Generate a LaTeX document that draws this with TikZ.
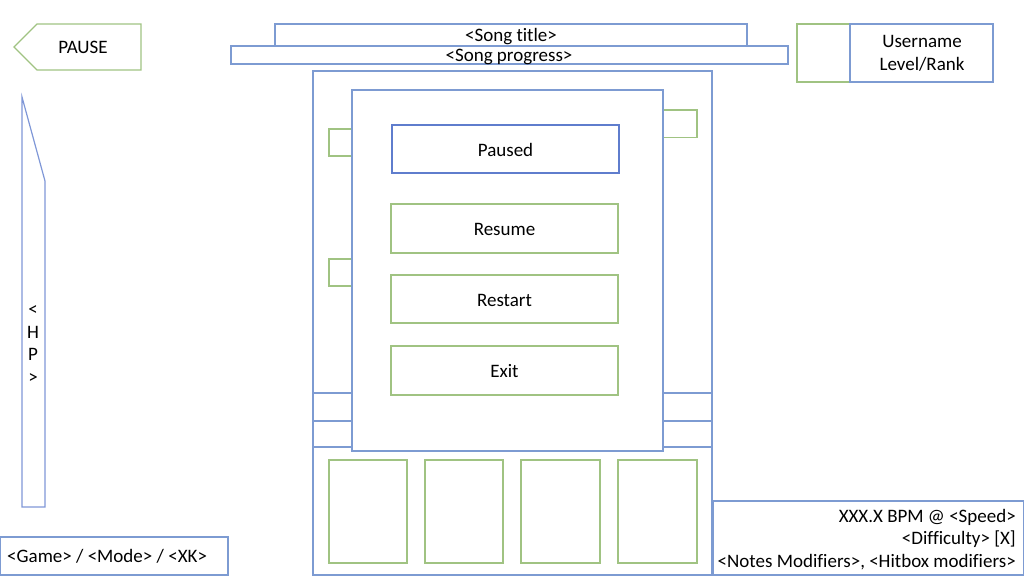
\documentclass[tikz,border=0pt]{standalone}
\usepackage{fontspec}
\setmainfont[Ligatures=NoCommon]{Carlito}
\definecolor{ublue}{RGB}{125,155,210}
\definecolor{dblue}{RGB}{95,125,205}
\definecolor{ugreen}{RGB}{160,195,130}
\begin{document}
\begin{tikzpicture}[x=1pt,y=-1pt,
  bl/.style={draw=ublue,line width=1.2pt},
  gr/.style={draw=ugreen,line width=1.4pt},
  txt/.style={font=\fontsize{19}{22.5}\selectfont,inner sep=0pt,align=center}]
\useasboundingbox (0,0) rectangle (1024,576);
% PAUSE
\draw[gr] (14,47) -- (37,24) -- (141,24) -- (141,70) -- (37,70) -- cycle;
\node[txt] (pause) at (83,47.5) {PAUSE};
% song title / progress
\draw[bl] (275,24) rectangle (747,46);
\node[txt] (title) at (511,36.5) {<Song title>};
\draw[bl,fill=white] (231,46) rectangle (788,64);
\node[txt] (prog) at (509,56.5) {<Song progress>};
% user
\draw[gr] (797,24) rectangle (850,82);
\draw[bl] (850,24) rectangle (993,82);
\node[txt] (user) at (922,53.5) {Username\\Level/Rank};
% HP bar
\draw[draw=dblue!80,line width=1.2pt] (22,97) -- (45,181) -- (45,507) -- (22,507) -- cycle;
\node[txt] (hp) at (33,344.5) {<\\H\\P\\>};
% game box
\draw[bl] (0,537) rectangle (228,575);
\node[txt,anchor=west] (game) at (7,556.5) {<Game> / <Mode> / <XK>};
% playfield
\draw[bl] (313,71) rectangle (712,575);
\draw[bl] (313,393) -- (712,393);
\draw[bl] (313,421) -- (712,421);
\draw[bl] (313,447) -- (712,447);
% small green boxes
\draw[gr] (329,129) rectangle (352,156);
\draw[gr] (329,259) rectangle (352,286);
\draw[gr] (663,110) rectangle (697,137.5);
% modal
\draw[bl,fill=white] (352,90) rectangle (663,451);
\draw[draw=dblue,line width=1.3pt] (392,125) rectangle (619,173);
\node[txt] (paused) at (505.5,150) {Paused};
\draw[gr] (391,204) rectangle (618,253);
\node[txt] (resume) at (504.5,229.5) {Resume};
\draw[gr] (391,275) rectangle (618,323);
\node[txt] (restart) at (504.5,300.5) {Restart};
\draw[gr] (391,346) rectangle (618,395);
\node[txt] (exit) at (504.5,371.5) {Exit};
% lanes
\draw[gr] (329,460) rectangle (407,563);
\draw[gr] (425,460) rectangle (503,563);
\draw[gr] (521,460) rectangle (600,563);
\draw[gr] (618,460) rectangle (697,563);
% info box
\draw[bl] (713,501) rectangle (1024,575);
\node[txt,anchor=east] (bpm) at (1016,517) {XXX.X BPM @ <Speed>};
\node[txt,anchor=east] (diff) at (1016,539) {<Difficulty> [X]};
\node[txt,anchor=east] (mods) at (1016,562) {<Notes Modifiers>, <Hitbox modifiers>};
\end{tikzpicture}
\end{document}
